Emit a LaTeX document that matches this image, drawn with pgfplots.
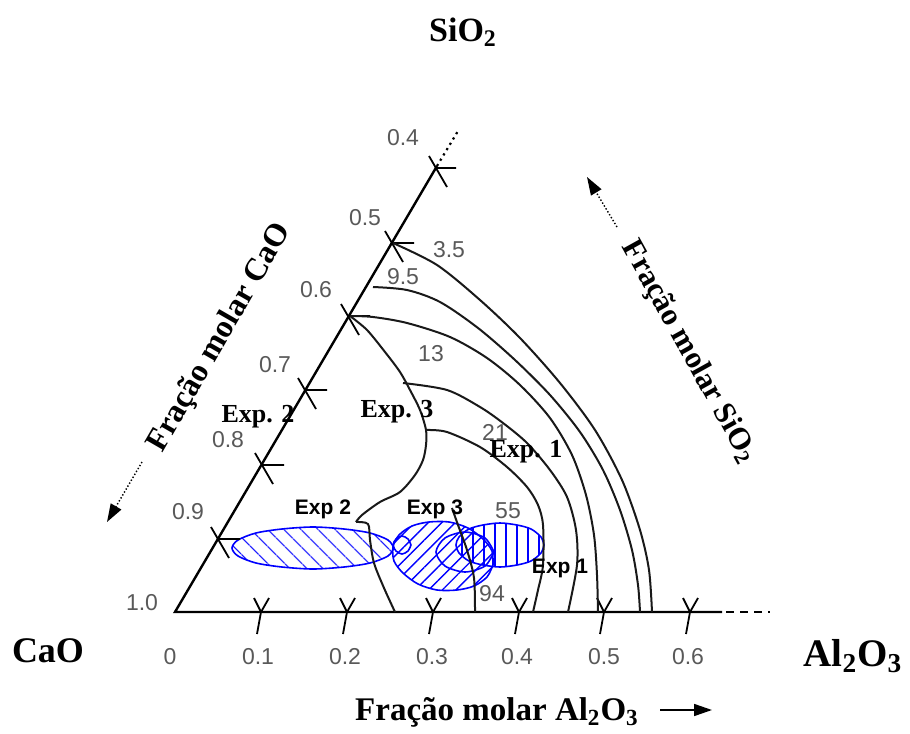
\documentclass[border=0pt]{standalone}
\usepackage{pgfplots}
\pgfplotsset{compat=1.18}
\usetikzlibrary{patterns.meta,arrows.meta}
\usepackage{fontspec}
\setmainfont{Liberation Serif}
\newfontfamily\sansf{Liberation Sans}

\begin{document}
\begin{tikzpicture}
\begin{axis}[x=0.5pt,y=0.5pt,xmin=0,xmax=910,ymin=0,ymax=733,y dir=reverse,
  hide axis,clip=false,scale only axis,unbounded coords=jump]
\path (rel axis cs:0,0) rectangle (rel axis cs:1,1);

% ---- ellipses (experimental regions) ----
\addplot[blue, line width=0.8pt, smooth,
  pattern={Lines[angle=-45,distance=6.5pt,line width=0.7pt]}, pattern color=blue]
  coordinates {(394,548) (388,540) (370,533) (344,529) (313,527) (282,529) (256,533) (238,540)
  (232,548) (238,556) (256,563) (282,567) (313,569) (344,567) (370,563) (388,556) (394,548)} -- cycle;
\addplot[blue, line width=0.8pt, smooth]
  coordinates {(411,545) (408,539) (402,536) (396,539) (393,545) (396,551) (402,554) (408,551) (411,545)};
\addplot[blue, line width=0.8pt, smooth,
  pattern={Lines[angle=45,distance=4.8pt,line width=0.7pt]}, pattern color=blue]
  coordinates {(493,565) (487,577) (474,586) (457,590) (437,590) (418,584) (403,573) (394,561)
  (393,547) (399,535) (412,526) (429,522) (449,522) (468,528) (483,539) (492,551) (493,565)} -- cycle;
\addplot[blue, line width=0.8pt, smooth]
  coordinates {(494,552) (485,566) (465,572) (445,566) (436,552) (445,538) (465,532) (485,538) (494,552)};
\addplot[blue, line width=0.8pt, smooth,
  pattern={Lines[angle=90,distance=5.5pt,line width=0.7pt]}, pattern color=blue]
  coordinates {(544,545) (541,553) (531,561) (517,565) (500,567) (483,565) (469,561) (459,553)
  (456,545) (459,537) (469,529) (483,525) (500,523) (517,525) (531,529) (541,537) (544,545)} -- cycle;

% ---- triangle edges ----
\addplot[black, line width=1.2pt] coordinates {(437,166) (175,612) (722,612)};
\addplot[black, line width=1.1pt, dotted] coordinates {(437,166) (458,131)};
\addplot[black, line width=1pt, dash pattern=on 4pt off 3pt] coordinates {(726,612) (770,612)};

% ---- ticks on the CaO edge ----
\addplot[black, line width=0.9pt] coordinates {
 (211,527) (229,558) (nan,nan) (218,539) (240,539) (nan,nan)
 (255,453) (273,484) (nan,nan) (262,465) (284,465) (nan,nan)
 (298,378) (316,409) (nan,nan) (305,390) (327,390) (nan,nan)
 (341,304) (359,335) (nan,nan) (348,316) (370,316) (nan,nan)
 (385,231) (403,262) (nan,nan) (392,243) (414,243) (nan,nan)
 (429,156) (447,187) (nan,nan) (436,168) (456,168)};
% ---- ticks on the Al2O3 edge ----
\addplot[black, line width=0.9pt] coordinates {
 (254,598) (261,612) (269,598) (nan,nan) (261,612) (257,634) (nan,nan)
 (340,598) (347,612) (355,598) (nan,nan) (347,612) (343,634) (nan,nan)
 (426,598) (433,612) (441,598) (nan,nan) (433,612) (429,634) (nan,nan)
 (512,598) (519,612) (527,598) (nan,nan) (519,612) (515,634) (nan,nan)
 (597,598) (604,612) (612,598) (nan,nan) (604,612) (600,634) (nan,nan)
 (683,598) (690,612) (698,598) (nan,nan) (690,612) (686,634)};

% ---- iso-lines ----
\addplot[black!90, line width=1pt, smooth] coordinates {(393,243) (437,265) (480,300) (520,338) (560,383) (595,430) (622,480) (640,530) (649,570) (652,612)};
\addplot[black!90, line width=1pt, smooth] coordinates {(373,287) (407,290) (440,302) (478,328) (515,360) (550,395) (580,432) (603,470) (620,510) (632,550) (638,585) (640,612)};
\addplot[black!90, line width=1pt, smooth] coordinates {(350,316) (373,317) (407,323) (450,337) (487,358) (520,385) (550,418) (572,455) (586,495) (594,535) (597,575) (598,612)};
\addplot[black!90, line width=1pt, smooth] coordinates {(403,383) (447,390) (480,407) (503,423) (527,443) (550,470) (567,497) (576,530) (577,565) (568,612)};
\addplot[black!90, line width=1pt, smooth] coordinates {(427,430) (447,432) (480,447) (507,467) (527,487) (538,505) (543,525) (543,565) (538,590) (533,612)};
\addplot[black!90, line width=1pt, smooth] coordinates {(452,508) (458,525) (467,550) (474,578) (475,612)};
\addplot[black!90, line width=1pt, smooth] coordinates {(350,316) (367,330) (385,352) (400,372) (410,390) (420,410) (426,430) (426,445) (423,460) (415,475) (400,492) (380,502) (362,515) (356,522)};
\addplot[black!90, line width=1pt, smooth] coordinates {(356,522) (368,524) (370,540) (374,563) (384,588) (395,612)};

% ---- arrows ----
\addplot[black, line width=0.7pt, densely dotted, -{Triangle[length=9pt,width=6pt]}] coordinates {(142,462) (107,522)};
\addplot[black, line width=0.7pt, densely dotted, -{Triangle[length=9pt,width=6pt]}] coordinates {(617,227) (587,177)};
\addplot[black, line width=0.8pt, -{Triangle[length=9pt,width=6pt]}] coordinates {(660,710) (712,710)};

% ---- corner labels ----
\node[font=\fontsize{17}{20}\selectfont\bfseries] at (axis cs:463,32) {SiO\textsubscript{2}};
\node[font=\fontsize{18}{20}\selectfont\bfseries] at (axis cs:48,651) {CaO};
\node[font=\fontsize{19.5}{22}\selectfont\bfseries] at (axis cs:853,656) {Al\textsubscript{2}O\textsubscript{3}};

% ---- axis titles ----
\node[font=\fontsize{16}{18}\selectfont\bfseries, rotate=60] at (axis cs:220,338) {Fração molar CaO};
\node[font=\fontsize{15.5}{18}\selectfont\bfseries, rotate=-61] at (axis cs:689,352) {Fração molar SiO\textsubscript{2}};
\node[font=\fontsize{16.5}{18}\selectfont\bfseries] at (axis cs:497,712) {Fração molar Al\textsubscript{2}O\textsubscript{3}};

% ---- tick labels ----
\begin{scope}[every node/.style={font=\sansf\fontsize{11.5}{13}\selectfont, text=black!65}]
\node at (axis cs:170,657) {0};
\node at (axis cs:258,657) {0.1};
\node at (axis cs:345,657) {0.2};
\node at (axis cs:432,657) {0.3};
\node at (axis cs:517,657) {0.4};
\node at (axis cs:604,657) {0.5};
\node at (axis cs:688,657) {0.6};
\node at (axis cs:142,603) {1.0};
\node at (axis cs:188,512) {0.9};
\node at (axis cs:228,440) {0.8};
\node at (axis cs:275,365) {0.7};
\node at (axis cs:316,290) {0.6};
\node at (axis cs:365,218) {0.5};
\node at (axis cs:403,138) {0.4};
\node at (axis cs:449,250) {3.5};
\node at (axis cs:403,277) {9.5};
\node at (axis cs:431,354) {13};
\node at (axis cs:495,432) {21};
\node at (axis cs:508,511) {55};
\node at (axis cs:492,594) {94};
\end{scope}

% ---- experiment labels ----
\begin{scope}[every node/.style={font=\fontsize{13}{15}\selectfont\bfseries}]
\node at (axis cs:258,417) {Exp. 2};
\node at (axis cs:397,412) {Exp. 3};
\node at (axis cs:526,452) {Exp. 1};
\end{scope}
\begin{scope}[every node/.style={font=\sansf\fontsize{10.5}{12}\selectfont\bfseries}]
\node at (axis cs:323,509) {Exp 2};
\node at (axis cs:435,509) {Exp 3};
\node at (axis cs:560,568) {Exp 1};
\end{scope}
\end{axis}
\end{tikzpicture}
\end{document}
